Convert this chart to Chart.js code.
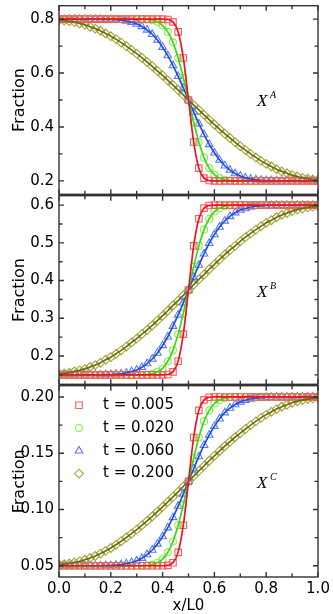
<!DOCTYPE html>
<html>
<head>
<meta charset="utf-8">
<script src="https://cdn.jsdelivr.net/npm/chart.js@4.4.0/dist/chart.umd.min.js"></script>
<style>
  body { margin: 0; background: #fff; width: 333px; height: 614px; position: relative; overflow: hidden; }
  canvas { position: absolute; left: 0; }
</style>
</head>
<body>
<canvas id="panelA" width="333" height="200" style="top:0"></canvas>
<canvas id="panelB" width="333" height="200" style="top:190px"></canvas>
<canvas id="panelC" width="333" height="234" style="top:380px"></canvas>
<script>
// x positions of the sampled points (x/L0)
const xPos = [0, 0.02, 0.04, 0.06, 0.08, 0.10, 0.12, 0.14, 0.16, 0.18, 0.20, 0.22, 0.24, 0.26, 0.28, 0.30, 0.32,
  0.34, 0.36, 0.38, 0.40, 0.42, 0.44, 0.46, 0.48, 0.50, 0.52, 0.54, 0.56, 0.58, 0.60, 0.62, 0.64, 0.66, 0.68, 0.70,
  0.72, 0.74, 0.76, 0.78, 0.80, 0.82, 0.84, 0.86, 0.88, 0.90, 0.92, 0.94, 0.96, 0.98, 1.00];

const seriesLabels = ['t = 0.005', 't = 0.020', 't = 0.060', 't = 0.200'];

// X^A
const fracA_t005 = [0.8, 0.8, 0.8, 0.8, 0.8, 0.8, 0.8, 0.8, 0.8, 0.8, 0.8, 0.8, 0.8, 0.8, 0.8, 0.8, 0.8, 0.8, 0.8, 0.8, 0.8,
  0.799, 0.790, 0.753, 0.656, 0.500, 0.344, 0.247, 0.210, 0.201,
  0.2, 0.2, 0.2, 0.2, 0.2, 0.2, 0.2, 0.2, 0.2, 0.2, 0.2, 0.2, 0.2, 0.2, 0.2, 0.2, 0.2, 0.2, 0.2, 0.2, 0.2];
const fracA_t020 = [0.8, 0.8, 0.8, 0.8, 0.8, 0.8, 0.8, 0.8, 0.8, 0.8, 0.8, 0.8, 0.8, 0.8, 0.8, 0.8, 0.8,
  0.799, 0.796, 0.790, 0.777, 0.753, 0.714, 0.656, 0.583, 0.500, 0.417, 0.344, 0.286, 0.247, 0.223, 0.210, 0.204, 0.201,
  0.2, 0.2, 0.2, 0.2, 0.2, 0.2, 0.2, 0.2, 0.2, 0.2, 0.2, 0.2, 0.2, 0.2, 0.2, 0.2, 0.2];
const fracA_t060 = [0.8, 0.8, 0.8, 0.8, 0.8, 0.8, 0.8, 0.8, 0.8,
  0.799, 0.799, 0.798, 0.796, 0.793, 0.789, 0.782, 0.773, 0.760, 0.744, 0.723, 0.696, 0.665, 0.628, 0.588, 0.545,
  0.500, 0.455, 0.412, 0.372, 0.335, 0.304, 0.277, 0.256, 0.240, 0.227, 0.218, 0.211, 0.207, 0.204, 0.202, 0.201, 0.201,
  0.2, 0.2, 0.2, 0.2, 0.2, 0.2, 0.2, 0.2, 0.2];
const fracA_t200 = [0.796, 0.795, 0.792, 0.789, 0.784, 0.779, 0.772, 0.765, 0.757, 0.747, 0.737, 0.726, 0.713, 0.700,
  0.686, 0.672, 0.657, 0.641, 0.625, 0.608, 0.591, 0.573, 0.555, 0.537, 0.519, 0.500, 0.481, 0.463, 0.445, 0.427,
  0.409, 0.392, 0.375, 0.359, 0.343, 0.328, 0.314, 0.300, 0.287, 0.274, 0.263, 0.253, 0.243, 0.235, 0.228, 0.221,
  0.216, 0.211, 0.208, 0.205, 0.204];

// X^B
const fracB_t005 = [0.15, 0.15, 0.15, 0.15, 0.15, 0.15, 0.15, 0.15, 0.15, 0.15, 0.15, 0.15, 0.15, 0.15, 0.15, 0.15, 0.15,
  0.15, 0.15, 0.15, 0.15,
  0.151, 0.158, 0.186, 0.258, 0.375, 0.492, 0.564, 0.592, 0.599,
  0.6, 0.6, 0.6, 0.6, 0.6, 0.6, 0.6, 0.6, 0.6, 0.6, 0.6, 0.6, 0.6, 0.6, 0.6, 0.6, 0.6, 0.6, 0.6, 0.6, 0.6];
const fracB_t020 = [0.15, 0.15, 0.15, 0.15, 0.15, 0.15, 0.15, 0.15, 0.15, 0.15, 0.15, 0.15, 0.15, 0.15, 0.15, 0.15, 0.15,
  0.151, 0.153, 0.158, 0.167, 0.186, 0.215, 0.258, 0.313, 0.375, 0.437, 0.492, 0.535, 0.564, 0.583, 0.592, 0.597, 0.599,
  0.6, 0.6, 0.6, 0.6, 0.6, 0.6, 0.6, 0.6, 0.6, 0.6, 0.6, 0.6, 0.6, 0.6, 0.6, 0.6, 0.6];
const fracB_t060 = [0.15, 0.15, 0.15, 0.15, 0.15, 0.15, 0.15, 0.15, 0.15,
  0.151, 0.151, 0.152, 0.153, 0.155, 0.159, 0.163, 0.170, 0.180, 0.192, 0.208, 0.228, 0.251, 0.279, 0.309, 0.341,
  0.375, 0.409, 0.441, 0.471, 0.499, 0.522, 0.542, 0.558, 0.570, 0.580, 0.587, 0.591, 0.595, 0.597, 0.598, 0.599, 0.599,
  0.6, 0.6, 0.6, 0.6, 0.6, 0.6, 0.6, 0.6, 0.6];
const fracB_t200 = [0.153, 0.154, 0.156, 0.159, 0.162, 0.166, 0.171, 0.176, 0.182, 0.190, 0.197, 0.206, 0.215, 0.225,
  0.236, 0.246, 0.258, 0.269, 0.281, 0.294, 0.307, 0.320, 0.334, 0.347, 0.361, 0.375, 0.389, 0.403, 0.416, 0.430,
  0.443, 0.456, 0.469, 0.481, 0.492, 0.504, 0.515, 0.525, 0.535, 0.544, 0.553, 0.560, 0.568, 0.574, 0.579, 0.584,
  0.588, 0.591, 0.594, 0.596, 0.597];

// X^C
const fracC_t005 = [0.05, 0.05, 0.05, 0.05, 0.05, 0.05, 0.05, 0.05, 0.05, 0.05, 0.05, 0.05, 0.05, 0.05, 0.05, 0.05, 0.05,
  0.05, 0.05, 0.05, 0.05,
  0.0503, 0.0526, 0.0619, 0.086, 0.125, 0.164, 0.1881, 0.1974, 0.1997,
  0.2, 0.2, 0.2, 0.2, 0.2, 0.2, 0.2, 0.2, 0.2, 0.2, 0.2, 0.2, 0.2, 0.2, 0.2, 0.2, 0.2, 0.2, 0.2, 0.2, 0.2];
const fracC_t020 = [0.05, 0.05, 0.05, 0.05, 0.05, 0.05, 0.05, 0.05, 0.05, 0.05, 0.05, 0.05, 0.05, 0.05, 0.05, 0.05, 0.05,
  0.0503, 0.051, 0.0526, 0.0558, 0.0619, 0.0716, 0.086, 0.1043, 0.125, 0.1457, 0.164, 0.1784, 0.1881, 0.1942, 0.1974,
  0.199, 0.1997,
  0.2, 0.2, 0.2, 0.2, 0.2, 0.2, 0.2, 0.2, 0.2, 0.2, 0.2, 0.2, 0.2, 0.2, 0.2, 0.2, 0.2];
const fracC_t060 = [0.05, 0.05, 0.05, 0.05, 0.05, 0.05, 0.05, 0.05, 0.05,
  0.0502, 0.0503, 0.0506, 0.0511, 0.0518, 0.0529, 0.0544, 0.0567, 0.0599, 0.064, 0.0694, 0.076, 0.0838, 0.0929, 0.103,
  0.1138, 0.125, 0.1362, 0.147, 0.1571, 0.1662, 0.174, 0.1806, 0.186, 0.1901, 0.1933, 0.1956, 0.1971, 0.1982, 0.1989,
  0.1994, 0.1997, 0.1998,
  0.2, 0.2, 0.2, 0.2, 0.2, 0.2, 0.2, 0.2, 0.2];
const fracC_t200 = [0.0511, 0.0514, 0.052, 0.0529, 0.0539, 0.0553, 0.0569, 0.0587, 0.0608, 0.0632, 0.0658, 0.0686,
  0.0718, 0.0751, 0.0785, 0.0821, 0.0859, 0.0898, 0.0938, 0.098, 0.1024, 0.1067, 0.1112, 0.1157, 0.1204, 0.125,
  0.1297, 0.1343, 0.1388, 0.1433, 0.1477, 0.152, 0.1562, 0.1603, 0.1642, 0.1679, 0.1715, 0.175, 0.1783, 0.1814,
  0.1843, 0.1868, 0.1892, 0.1913, 0.1931, 0.1948, 0.1961, 0.1972, 0.1981, 0.1987, 0.199];

// ticks
const xTicks = [0, 0.2, 0.4, 0.6, 0.8, 1.0];
const xMinor = [0.1, 0.3, 0.5, 0.7, 0.9];
const yTicksA = [0.2, 0.4, 0.6, 0.8];
const yMinorA = [0.3, 0.5, 0.7];
const yTicksB = [0.2, 0.3, 0.4, 0.5, 0.6];
const yMinorB = [0.15, 0.25, 0.35, 0.45, 0.55];
const yTicksC = [0.05, 0.10, 0.15, 0.20];
const yMinorC = [0.075, 0.125, 0.175];

const looks = [
  { line: '#ea1520', mark: '#f75c5c', shape: 'rect', r: 4.6 },
  { line: '#3ad81c', mark: '#8fee4c', shape: 'circle', r: 3.5 },
  { line: '#2250dc', mark: '#5a7cf0', shape: 'triangle', r: 4.4 },
  { line: '#6e6e08', mark: '#a2a23c', shape: 'rectRot', r: 4.4 }
];

Chart.defaults.font.family = "'DejaVu Sans', sans-serif";
Chart.defaults.font.size = 15;
Chart.defaults.color = '#000';

function buildSets(list) {
  const sets = [];
  list.forEach((ys, i) => {
    const pts = xPos.map((x, j) => ({ x, y: ys[j] }));
    sets.push({
      label: seriesLabels[i] + ' fit', data: pts, borderColor: looks[i].line, borderWidth: 1.7,
      pointRadius: 0, cubicInterpolationMode: 'monotone', order: 0
    });
    sets.push({
      label: seriesLabels[i], data: pts, showLine: false, pointStyle: looks[i].shape,
      pointRadius: looks[i].r, pointBorderColor: looks[i].mark, pointBackgroundColor: 'rgba(0,0,0,0)',
      pointBorderWidth: 1.1, order: 1
    });
  });
  return sets;
}

// frame, inward ticks, X^k label and the legend
const framePlugin = {
  id: 'frame',
  afterDraw(chart, args, o) {
    const { ctx, chartArea: a } = chart;
    const x = chart.scales.x, y = chart.scales.y;
    ctx.save();
    ctx.strokeStyle = '#333';
    ctx.lineWidth = 1.4;
    ctx.beginPath();
    const tick = (px, py, dx, dy) => { ctx.moveTo(px, py); ctx.lineTo(px + dx, py + dy); };
    xTicks.forEach(v => { const p = x.getPixelForValue(v); tick(p, a.top, 0, 5); tick(p, a.bottom, 0, -5); });
    xMinor.forEach(v => { const p = x.getPixelForValue(v); tick(p, a.top, 0, 3.5); tick(p, a.bottom, 0, -3.5); });
    o.major.forEach(v => { const p = y.getPixelForValue(v); tick(a.left, p, 5, 0); tick(a.right, p, -5, 0); });
    o.minor.forEach(v => { const p = y.getPixelForValue(v); tick(a.left, p, 3.5, 0); tick(a.right, p, -3.5, 0); });
    ctx.stroke();
    ctx.strokeRect(a.left, a.top, a.right - a.left, a.bottom - a.top);

    // X^k
    const lx = x.getPixelForValue(o.at[0]), ly = y.getPixelForValue(o.at[1]);
    ctx.fillStyle = '#000';
    ctx.textBaseline = 'alphabetic';
    ctx.textAlign = 'left';
    ctx.font = "italic 17px 'Liberation Serif'";
    ctx.fillText('X', lx, ly);
    ctx.font = "italic 10px 'Liberation Serif'";
    ctx.fillText(o.letter, lx + 13, ly - 8);

    if (o.legend) {
      ctx.font = "15px 'DejaVu Sans'";
      ctx.textBaseline = 'middle';
      seriesLabels.forEach((t, i) => {
        const cy = a.top + 19.5 + i * 22.8;
        const cx = a.left + 20;
        ctx.strokeStyle = looks[i].mark;
        ctx.fillStyle = 'rgba(0,0,0,0)';
        ctx.lineWidth = 1.1;
        Chart.helpers.drawPoint(ctx, { pointStyle: looks[i].shape, radius: looks[i].r, rotation: 0, borderWidth: 1.1 }, cx, cy);
        ctx.fillStyle = '#000';
        ctx.fillText(t, cx + 24, cy);
      });
    }
    ctx.restore();
  }
};

function yAxis(min, max, ticks, digits) {
  return {
    min, max,
    afterBuildTicks: s => { s.ticks = ticks.map(v => ({ value: v })); },
    afterFit: s => { s.width = 59; s.paddingTop = 0; s.paddingBottom = 0; },
    grid: { display: false, drawTicks: false },
    border: { display: false },
    ticks: { padding: 5, callback: v => v.toFixed(digits) },
    title: { display: true, text: 'Fraction', font: { size: 16, lineHeight: 1 }, padding: { top: 11.5, bottom: 0 } }
  };
}

function makePanel(id, list, yOpts, padding, frame, showX) {
  new Chart(document.getElementById(id), {
    type: 'line',
    data: { datasets: buildSets(list) },
    options: {
      responsive: false,
      animation: false,
      events: [],
      layout: { padding },
      plugins: { legend: { display: false }, tooltip: { enabled: false }, frame },
      scales: {
        x: showX ? {
          type: 'linear', min: 0, max: 1,
          afterBuildTicks: s => { s.ticks = xTicks.map(v => ({ value: v })); },
          afterFit: s => { s.height = 37; },
          grid: { display: false, drawTicks: false },
          border: { display: false },
          ticks: { padding: 3, maxRotation: 0, callback: v => v.toFixed(1) },
          title: { display: true, text: 'x/L0', font: { size: 15, lineHeight: 1 }, padding: 0 }
        } : { type: 'linear', min: 0, max: 1, display: false },
        y: yOpts
      }
    },
    plugins: [framePlugin]
  });
}

makePanel('panelA', [fracA_t005, fracA_t020, fracA_t060, fracA_t200], yAxis(0.15, 0.85, yTicksA, 1),
  { top: 4, bottom: 5, left: 0, right: 15 },
  { major: yTicksA, minor: yMinorA, letter: 'A', at: [0.764, 0.478] }, false);
makePanel('panelB', [fracB_t005, fracB_t020, fracB_t060, fracB_t200], yAxis(0.125, 0.625, yTicksB, 1),
  { top: 5, bottom: 4, left: 0, right: 15 },
  { major: yTicksB, minor: yMinorB, letter: 'B', at: [0.764, 0.357] }, false);
makePanel('panelC', [fracC_t005, fracC_t020, fracC_t060, fracC_t200], yAxis(0.04, 0.21, yTicksC, 2),
  { top: 5, bottom: 0, left: 0, right: 15 },
  { major: yTicksC, minor: yMinorC, letter: 'C', at: [0.764, 0.119], legend: true }, true);
</script>
</body>
</html>
